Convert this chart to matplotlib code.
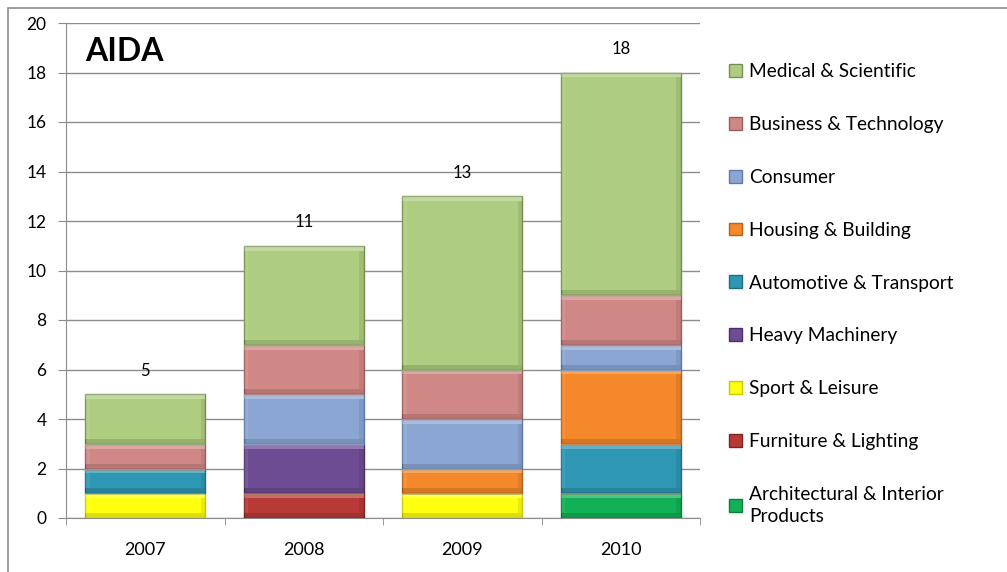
import matplotlib
matplotlib.use("Agg")
import matplotlib.pyplot as plt
from matplotlib.patches import Rectangle
import numpy as np

plt.rcParams['font.family'] = ['Lato', 'DejaVu Sans']

years = ["2007", "2008", "2009", "2010"]
series_names = [
    "Architectural & Interior\nProducts",
    "Furniture & Lighting",
    "Sport & Leisure",
    "Heavy Machinery",
    "Automotive & Transport",
    "Housing & Building",
    "Consumer",
    "Business & Technology",
    "Medical & Scientific",
]
architectural = [0, 0, 0, 1]
furniture = [0, 1, 0, 0]
sport = [1, 0, 1, 0]
heavy = [0, 2, 0, 0]
automotive = [1, 0, 0, 2]
housing = [0, 0, 1, 3]
consumer = [0, 2, 2, 1]
business = [1, 2, 2, 2]
medical = [2, 4, 7, 9]
totals = [5, 11, 13, 18]

series_values = [architectural, furniture, sport, heavy, automotive,
                 housing, consumer, business, medical]
colors = ["#12B156", "#B73A37", "#FFFF10", "#6E4C93", "#2E97B3",
          "#F5882A", "#8CA6D4", "#D08886", "#AECD80"]
edges = ["#0A7F3C", "#7E2422", "#C9C900", "#4A3168", "#1F6E84",
         "#B5621C", "#5E7BA8", "#9A5E5C", "#74904E"]

fig = plt.figure(figsize=(10.07, 5.72), dpi=100)
# outer frame
fig.patches.append(Rectangle((8/1007, -0.1), 2, 1 - 8/572 + 0.1,
                             transform=fig.transFigure, fill=False,
                             edgecolor="#8C8C8C", linewidth=1.2))

ax = fig.add_axes([66/1007, 1 - 518/572, (700 - 66)/1007, (518 - 23)/572])
x = np.arange(len(years))
bottom = np.zeros(len(years))
handles = []
for vals, col, ec, name in zip(series_values, colors, edges, series_names):
    vals = np.array(vals, dtype=float)
    bars = ax.bar(x, vals, width=0.76, bottom=bottom, color=col,
                  edgecolor=ec, linewidth=1.0, zorder=3, label=name)
    # bevel highlights derived from bar geometry
    for b, v in zip(bars, vals):
        if v <= 0:
            continue
        bx, by = b.get_x(), b.get_y()
        bw, bh = b.get_width(), b.get_height()
        sx = 0.03
        ax.add_patch(Rectangle((bx, by + bh - 0.2), bw, 0.2,
                               facecolor="white", alpha=0.25,
                               linewidth=0, zorder=4))
        ax.add_patch(Rectangle((bx, by), bw, 0.2,
                               facecolor="black", alpha=0.13,
                               linewidth=0, zorder=4))
        ax.add_patch(Rectangle((bx + bw - sx, by + 0.2), sx, bh - 0.4,
                               facecolor="black", alpha=0.08,
                               linewidth=0, zorder=4))
        ax.add_patch(Rectangle((bx, by + 0.2), sx, bh - 0.4,
                               facecolor="white", alpha=0.08,
                               linewidth=0, zorder=4))
    handles.append(bars)
    bottom += vals

for xi, t in zip(x, totals):
    ax.annotate(str(t), (xi, t), xytext=(0, 11), textcoords="offset points",
                ha="center", va="bottom", fontsize=12, color="black")

ax.set_xlim(-0.5, len(years) - 0.5)
ax.set_ylim(0, 20)
ax.set_yticks(np.arange(0, 21, 2))
ax.set_xticks(x)
ax.set_xticklabels(years)
ax.set_xticks(np.arange(-0.5, len(years), 1), minor=True)
ax.tick_params(axis='x', which='major', length=0, pad=17, labelsize=13)
ax.tick_params(axis='x', which='minor', length=5, color="#8C8C8C",
               direction='out')
ax.tick_params(axis='y', length=6, color="#8C8C8C", direction='out',
               labelsize=12.5, pad=8)
ax.yaxis.grid(True, color="#8C8C8C", linewidth=1.0, zorder=0)
ax.set_axisbelow(True)
for s in ["top", "right"]:
    ax.spines[s].set_visible(False)
ax.spines["left"].set_color("#8C8C8C")
ax.spines["bottom"].set_color("#8C8C8C")

ax.text(0.03, 0.942, "AIDA", transform=ax.transAxes, fontsize=23,
        fontweight="bold", ha="left", va="center")

leg = fig.legend(handles[::-1], series_names[::-1], loc="upper left",
                 bbox_to_anchor=(712/1007, 1 - 46/572), frameon=False,
                 fontsize=13.8, labelspacing=1.87, handlelength=0.65,
                 handleheight=0.65, handletextpad=0.4)
for t in leg.get_texts():
    t.set_linespacing(1.35)

fig.savefig("out.png", dpi=100)
